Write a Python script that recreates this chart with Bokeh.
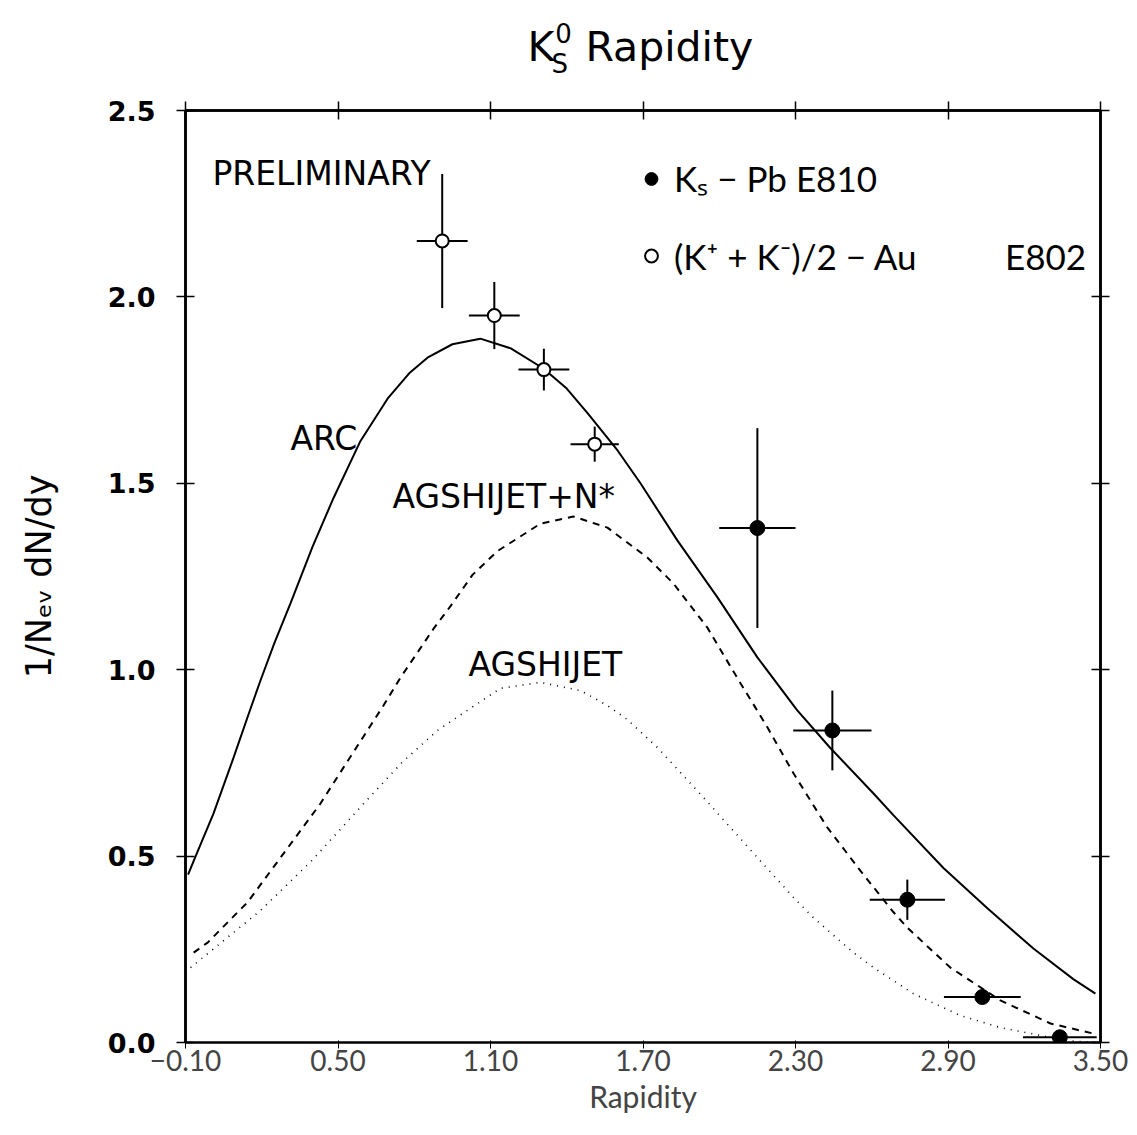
from bokeh.plotting import figure
from bokeh.layouts import column
from bokeh.models import (FixedTicker, LinearAxis, Label, Legend, LegendItem,
                          Range1d, CustomJSTickFormatter)
from bokeh.embed import file_html
from bokeh.resources import INLINE

# ---------------- data ----------------
x_ticks = [-0.10, 0.50, 1.10, 1.70, 2.30, 2.90, 3.50]
y_ticks = [0.0, 0.5, 1.0, 1.5, 2.0, 2.5]

# E802 (K+ + K-)/2 - Au  (open circles)
e802_x = [0.91, 1.115, 1.31, 1.51]
e802_y = [2.15, 1.95, 1.805, 1.605]
e802_xerr = [0.10, 0.10, 0.10, 0.095]
e802_yerr = [0.18, 0.09, 0.056, 0.047]

# E810 Ks - Pb  (filled circles)
e810_x = [2.15, 2.445, 2.74, 3.035, 3.34]
e810_y = [1.38, 0.837, 0.383, 0.122, 0.014]
e810_xerr = [0.15, 0.154, 0.148, 0.151, 0.145]
e810_yerr = [0.268, 0.107, 0.054, 0.0, 0.0]

# ARC (solid)
arc_x = [-0.09, -0.06, 0.01, 0.089, 0.156, 0.195, 0.25, 0.313, 0.40, 0.482, 0.588,
         0.695, 0.78, 0.852, 0.95, 1.06, 1.18, 1.308, 1.40, 1.481, 1.60, 1.69, 1.835,
         1.993, 2.15, 2.307, 2.437, 2.607, 2.685, 2.882, 3.055, 3.236, 3.393, 3.48]
arc_y = [0.45, 0.50, 0.614, 0.764, 0.896, 0.971, 1.072, 1.178, 1.33, 1.46, 1.613,
         1.727, 1.795, 1.837, 1.873, 1.888, 1.862, 1.808, 1.754, 1.689, 1.588, 1.50,
         1.347, 1.194, 1.033, 0.891, 0.790, 0.668, 0.610, 0.468, 0.360, 0.252, 0.170,
         0.131]

# AGSHIJET+N* (dashed)
agsn_x = [-0.068, -0.013, 0.144, 0.274, 0.431, 0.522, 0.679, 0.746, 0.876, 0.942,
          1.03, 1.127, 1.297, 1.426, 1.56, 1.717, 1.82, 1.953, 2.07, 2.19, 2.292, 2.425,
          2.555, 2.685, 2.74, 2.909, 3.106, 3.303, 3.472]
agsn_y = [0.241, 0.268, 0.376, 0.496, 0.641, 0.738, 0.904, 0.979, 1.11, 1.170,
          1.255, 1.318, 1.392, 1.411, 1.381, 1.301, 1.231, 1.113, 0.979, 0.845, 0.722,
          0.577, 0.461, 0.350, 0.308, 0.201, 0.113, 0.051, 0.024]

# AGSHIJET (dotted)
ags_x = [-0.08, 0.195, 0.40, 0.60, 0.75, 0.891, 1.009, 1.139, 1.297, 1.454, 1.56,
         1.639, 1.757, 1.938, 2.15, 2.292, 2.37, 2.528, 2.607, 2.764, 2.949, 3.106,
         3.37, 3.48]
ags_y = [0.201, 0.354, 0.49, 0.64, 0.75, 0.837, 0.891, 0.950, 0.966, 0.944, 0.904,
         0.866, 0.791, 0.657, 0.496, 0.389, 0.335, 0.241, 0.201, 0.131, 0.072, 0.040,
         0.005, 0.0]

GEO = "Lato"
WIDE = "DejaVu Sans"

W = 1128
HT = 90            # title strip height
HM = 1127 - HT     # main figure height
FRAME_TOP = 110 - HT
FRAME_BOTTOM = 1042 - HT

xr = Range1d(-0.10, 3.50)

# ---------- title strip (its own svg figure) ----------
tfig = figure(width=W, height=HT, output_backend="svg", toolbar_location=None,
              x_range=xr, y_range=Range1d(0, HT),
              min_border_left=185, min_border_right=W - 1100, min_border_top=0,
              min_border_bottom=0, x_axis_location=None, y_axis_location=None)
tfig.grid.visible = False
tfig.outline_line_color = None
tfig.background_fill_color = "white"
tfig.border_fill_color = "white"
for txt, x, y, fs in [("K", 1.2454, 44, "41px"), ("S", 1.340, 27, "26px"),
                      ("0", 1.355, 58, "26px"), ("Rapidity", 1.4736, 44, "41px")]:
    tfig.add_layout(Label(x=x, y=y, text=txt, text_font=WIDE, text_font_size=fs,
                          text_color="black", text_baseline="alphabetic"))

# ---------- main figure ----------
p = figure(width=W, height=HM, output_backend="svg", toolbar_location=None,
           x_range=xr, y_range=Range1d(0.0, 2.5),
           min_border_left=185, min_border_right=W - 1100, min_border_top=FRAME_TOP,
           min_border_bottom=HM - FRAME_BOTTOM)
p.background_fill_color = "white"
p.border_fill_color = "white"
p.xgrid.visible = False
p.ygrid.visible = False
p.outline_line_color = "black"
p.outline_line_width = 2.5

xfmt = CustomJSTickFormatter(code="return (tick < -1e-9 ? '\u2212' : '') + Math.abs(tick).toFixed(2);")
yfmt = CustomJSTickFormatter(code="return tick.toFixed(1);")
blank = CustomJSTickFormatter(code="return '';")

for ax in p.xaxis:
    ax.ticker = FixedTicker(ticks=x_ticks)
    ax.formatter = xfmt
    ax.major_label_text_font = GEO
    ax.major_label_text_font_size = "28px"
    ax.major_label_standoff = 1
    ax.axis_label = "Rapidity"
    ax.axis_label_text_font = GEO
    ax.axis_label_text_font_style = "normal"
    ax.axis_label_text_font_size = "30px"
    ax.axis_label_standoff = 4
for ax in p.yaxis:
    ax.ticker = FixedTicker(ticks=y_ticks)
    ax.formatter = yfmt
    ax.major_label_text_font = WIDE
    ax.major_label_text_font_style = "bold"
    ax.major_label_text_font_size = "27px"
    ax.major_label_standoff = 21
    ax.axis_label = "1/N\u2091\u1d65 dN/dy"
    ax.axis_label_text_font = WIDE
    ax.axis_label_text_font_style = "normal"
    ax.axis_label_text_font_size = "35px"
    ax.axis_label_standoff = 46

top_ax = LinearAxis(ticker=FixedTicker(ticks=x_ticks), formatter=blank)
right_ax = LinearAxis(ticker=FixedTicker(ticks=y_ticks), formatter=blank)
p.add_layout(top_ax, "above")
p.add_layout(right_ax, "right")

for ax in [p.xaxis[0], p.yaxis[0], top_ax, right_ax]:
    ax.axis_line_color = "black"
    ax.axis_line_width = 2.5
    ax.major_tick_line_color = "black"
    ax.major_tick_line_width = 1.5
    ax.major_tick_in = 9
    ax.major_tick_out = 9
    ax.minor_tick_line_color = None
    ax.major_label_text_color = "black"
    ax.axis_label_text_color = "black"

# curves
p.line(arc_x, arc_y, line_color="black", line_width=2)
p.line(agsn_x, agsn_y, line_color="black", line_width=2, line_dash="7 6")
p.line(ags_x, ags_y, line_color="black", line_width=1.6, line_dash="1 6")

# error bars
def err_segments(xs, ys, xe, ye):
    hx0 = [x - e for x, e in zip(xs, xe)]
    hx1 = [x + e for x, e in zip(xs, xe)]
    vy0 = [y - e for y, e in zip(ys, ye)]
    vy1 = [y + e for y, e in zip(ys, ye)]
    return hx0, hx1, vy0, vy1

hx0, hx1, vy0, vy1 = err_segments(e802_x, e802_y, e802_xerr, e802_yerr)
p.segment(x0=hx0, y0=e802_y, x1=hx1, y1=e802_y, line_color="black", line_width=2)
p.segment(x0=e802_x, y0=vy0, x1=e802_x, y1=vy1, line_color="black", line_width=2)
hx0, hx1, vy0, vy1 = err_segments(e810_x, e810_y, e810_xerr, e810_yerr)
p.segment(x0=hx0, y0=e810_y, x1=hx1, y1=e810_y, line_color="black", line_width=2)
p.segment(x0=e810_x, y0=vy0, x1=e810_x, y1=vy1, line_color="black", line_width=2)

r802 = p.scatter(e802_x, e802_y, size=13, marker="circle", fill_color="white",
                 line_color="black", line_width=2)
r810 = p.scatter(e810_x, e810_y, size=15, marker="circle", fill_color="black",
                 line_color="black")

legend = Legend(items=[LegendItem(label="K\u209b \u2212 Pb E810", renderers=[r810]),
                       LegendItem(label="(K\u207a + K\u207b)/2 \u2212 Au\u2003\u2003    E802",
                                  renderers=[r802])],
                location=(450, 748), margin=0, padding=0,
                border_line_color=None, background_fill_alpha=0,
                label_text_font=GEO, label_text_font_size="35px",
                label_text_color="black",
                glyph_width=32, glyph_height=77, label_height=77, spacing=0,
                label_standoff=7)
p.add_layout(legend)

# annotations
for txt, x, y in [("PRELIMINARY", 0.006, 2.331), ("ARC", 0.313, 1.62),
                  ("AGSHIJET+N*", 0.714, 1.465), ("AGSHIJET", 1.013, 1.015)]:
    p.add_layout(Label(x=x, y=y, text=txt, text_font=WIDE, text_font_size="33px",
                       text_color="black", text_baseline="alphabetic"))

layout = column(tfig, p, spacing=0)
open("out.html", "w").write(file_html(layout, INLINE))
